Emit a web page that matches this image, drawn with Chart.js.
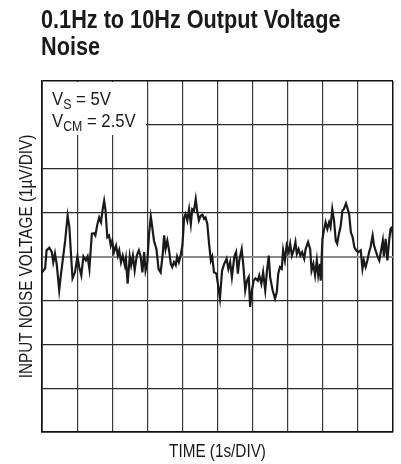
<!DOCTYPE html>
<html>
<head>
  <title>0.1Hz to 10Hz Output Voltage Noise</title>
  <script src="https://cdn.jsdelivr.net/npm/chart.js"></script>
  <style>
    body { margin: 0; background: #fff; }
    #wrap { width: 401px; height: 464px; }
  </style>
</head>
<body>
  <div id="wrap"><canvas id="noiseChart"></canvas></div>

  <script>
    // ====================
    // Data (time in s, noise in uV from centre line)
    // ====================
    const titleLines = ['0.1Hz to 10Hz Output Voltage', 'Noise'];
    const xTitle = 'TIME (1s/DIV)';
    const yTitle = 'INPUT NOISE VOLTAGE (1\u00b5V/DIV)';

    const timeS = [0.00,0.09,0.13,0.21,0.28,0.32,0.37,0.42,0.49,0.53,
      0.59,0.66,0.73,0.78,0.83,0.87,0.94,1.01,1.06,1.12,
      1.18,1.25,1.30,1.35,1.39,1.42,1.48,1.52,1.58,1.63,
      1.68,1.73,1.77,1.81,1.86,1.91,1.96,2.00,2.05,2.11,
      2.16,2.20,2.25,2.30,2.36,2.39,2.44,2.50,2.54,2.59,
      2.64,2.70,2.76,2.81,2.86,2.91,2.95,3.00,3.05,3.10,
      3.13,3.19,3.26,3.32,3.38,3.44,3.48,3.52,3.57,3.62,
      3.67,3.71,3.76,3.81,3.85,3.90,3.95,4.00,4.05,4.09,
      4.14,4.19,4.24,4.28,4.33,4.38,4.42,4.47,4.52,4.57,
      4.62,4.66,4.71,4.76,4.81,4.85,4.90,4.97,5.01,5.07,
      5.13,5.19,5.26,5.31,5.36,5.41,5.48,5.53,5.58,5.62,
      5.69,5.74,5.79,5.84,5.89,5.93,5.98,6.03,6.08,6.15,
      6.19,6.25,6.30,6.36,6.41,6.46,6.50,6.57,6.64,6.69,
      6.73,6.78,6.83,6.87,6.92,6.97,7.03,7.07,7.12,7.17,
      7.22,7.26,7.31,7.36,7.41,7.47,7.51,7.58,7.64,7.68,
      7.73,7.78,7.83,7.87,7.92,7.94,7.99,8.03,8.08,8.13,
      8.18,8.22,8.27,8.32,8.37,8.41,8.46,8.51,8.56,8.60,
      8.66,8.71,8.75,8.80,8.85,8.90,8.95,9.01,9.08,9.13,
      9.17,9.22,9.27,9.32,9.36,9.42,9.46,9.52,9.56,9.61,
      9.66,9.71,9.74,9.79,9.84,9.89,9.93,9.98,10.0];

    const noiseUV = [-0.36,-0.27,0.14,0.2,0.1,-0.13,0.07,-0.18,-0.77,-0.47,
      -0.09,0.36,0.93,0.67,0,-0.5,-0.36,0,-0.24,-0.43,
      0,-0.09,0,-0.28,0.18,0.52,0.53,0.48,0.74,0.89,
      0.78,1.08,1.27,1.05,0.44,0.48,0.25,0.36,0.1,0.25,
      0.02,0.14,-0.13,0.02,-0.2,-0.05,-0.62,0,-0.2,0.02,
      -0.32,0.02,0.14,0,-0.36,0.1,-0.32,-0.13,0.52,0.91,
      0.74,0.36,0.17,-0.28,-0.36,0.06,0.48,0.17,0.36,0.14,
      -0.17,-0.24,-0.13,-0.2,0,-0.13,0.02,0.25,0.89,0.97,
      0.82,1.08,0.74,1.08,1.05,1.31,1.05,0.82,0.93,0.95,
      0.86,0.89,0.74,0.29,-0.09,0,-0.36,-0.39,-0.62,-0.96,
      -0.32,-0.17,-0.05,-0.28,-0.13,-0.47,0,0.1,-0.39,-0.09,
      0.17,-0.24,-0.77,-0.55,-0.47,-1.15,-0.77,-0.55,-0.5,-0.55,
      -0.43,-0.62,-0.36,-0.77,-0.32,0.02,-0.47,-0.77,-0.96,-0.81,
      -0.39,-0.24,-0.28,0.14,-0.09,0.25,0.1,0.29,0.02,0.14,
      0.33,0.06,0.17,0.02,0.1,-0.05,0.17,0.33,0.17,-0.32,
      -0.17,-0.43,-0.09,-0.43,-0.17,-0.55,0.4,0.59,0.78,0.63,
      0.78,0.67,1.08,0.82,0.36,0.29,0.52,0.7,1.05,1.08,
      1.21,1.08,0.97,0.55,0.44,0.21,0.14,0.1,0.14,-0.28,
      -0.09,-0.24,-0.09,0.1,0.21,0.48,0.25,0.1,0,-0.09,
      0.14,0.36,0,0.4,-0.09,0.36,0.63,0.67,0.4];

    const FONT = "'Liberation Sans', Arial, sans-serif";

    // draw text squeezed horizontally (fake condensed face), optionally rotated
    function squeezed(ctx, text, x, y, font, sx, align, rot) {
      ctx.save();
      ctx.translate(x, y);
      if (rot) ctx.rotate(rot);
      ctx.scale(sx, 1);
      ctx.font = font;
      ctx.textAlign = align || 'left';
      ctx.textBaseline = 'alphabetic';
      ctx.fillText(text, 0, 0);
      const w = ctx.measureText(text).width * sx;
      ctx.restore();
      return w;
    }

    const labels = {
      id: 'labels',
      beforeDatasetsDraw(chart) {
        const { ctx, chartArea } = chart;
        ctx.save();
        ctx.fillStyle = '#fff';
        ctx.fillRect(chartArea.left + 1, chartArea.top + 1, 103, 53);
        ctx.fillStyle = '#1a1a1a';
        const line = (x, y, main, sub, rest) => {
          x += squeezed(ctx, main, x, y, '19px ' + FONT, 0.88);
          x += squeezed(ctx, sub, x, y + 4, '14px ' + FONT, 0.88);
          squeezed(ctx, rest, x, y, '19px ' + FONT, 0.88);
        };
        line(chartArea.left + 10, chartArea.top + 24, 'V', 'S', ' = 5V');
        line(chartArea.left + 10, chartArea.top + 46, 'V', 'CM', ' = 2.5V');
        ctx.restore();
      },
      afterDraw(chart) {
        const { ctx, chartArea } = chart;
        ctx.save();
        ctx.fillStyle = '#1a1a1a';
        squeezed(ctx, titleLines[0], 41, 28, 'bold 25px ' + FONT, 0.867);
        squeezed(ctx, titleLines[1], 41, 55, 'bold 25px ' + FONT, 0.867);
        const cx = (chartArea.left + chartArea.right) / 2;
        const cy = (chartArea.top + chartArea.bottom) / 2;
        squeezed(ctx, xTitle, cx, 457, '18px ' + FONT, 0.85, 'center');
        squeezed(ctx, yTitle, 32, cy, '18px ' + FONT, 0.85, 'center', -Math.PI / 2);
        ctx.restore();
      }
    };

    const edge = (v, min, max) => v === min || v === max;

    new Chart(document.getElementById('noiseChart'), {
      type: 'line',
      data: {
        datasets: [{
          data: timeS.map((t, i) => ({ x: t, y: noiseUV[i] })),
          borderColor: '#1a1a1a',
          borderWidth: 2.2,
          pointRadius: 0,
          tension: 0,
          fill: false
        }]
      },
      options: {
        responsive: true,
        maintainAspectRatio: false,
        animation: false,
        layout: { padding: { top: 81, right: 8, left: 42, bottom: 32 } },
        plugins: {
          legend: { display: false },
          tooltip: { enabled: false },
          title: { display: false }
        },
        scales: {
          x: {
            type: 'linear',
            min: 0,
            max: 10,
            ticks: { display: false, stepSize: 1 },
            grid: {
              drawTicks: false,
              color: ctx => edge(ctx.tick.value, 0, 10) ? '#111' : '#3a3a3a',
              lineWidth: ctx => edge(ctx.tick.value, 0, 10) ? 1.5 : 1.2
            },
            border: { display: true, color: '#111', width: 1.5 }
          },
          y: {
            min: -4,
            max: 4,
            ticks: { display: false, stepSize: 1 },
            grid: {
              drawTicks: false,
              color: ctx => ctx.tick.value === 0 ? '#8a8a8a' : (edge(ctx.tick.value, -4, 4) ? '#111' : '#2a2a2a'),
              lineWidth: ctx => ctx.tick.value === 0 ? 2 : (edge(ctx.tick.value, -4, 4) ? 1.5 : 1.2)
            },
            border: { display: true, color: '#111', width: 1.5 }
          }
        }
      },
      plugins: [labels]
    });
  </script>
</body>
</html>
